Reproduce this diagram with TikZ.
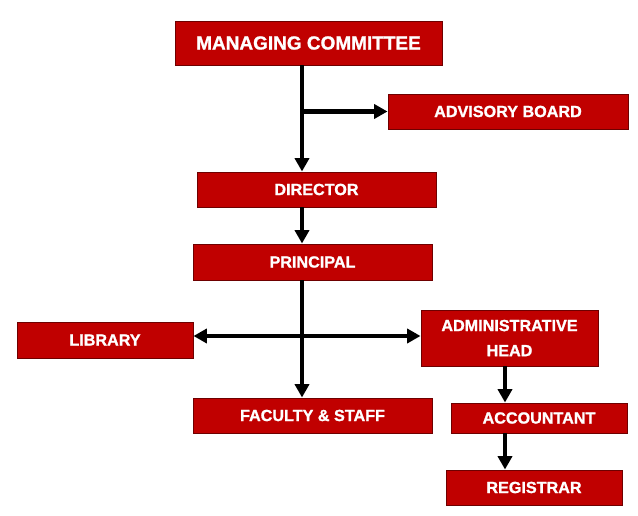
\documentclass[tikz,border=0pt]{standalone}
\usepackage{fontspec}
\setsansfont{Liberation Sans}[BoldFeatures={FakeBold=1.2}]
\usetikzlibrary{arrows.meta}
\usetikzlibrary{positioning}
\definecolor{boxred}{RGB}{192,0,0}
\definecolor{boxedge}{RGB}{110,0,0}
\begin{document}
\begin{tikzpicture}[line width=3.4pt,>={Triangle[length=9.5pt,width=10pt]},
    post/.style={rectangle,fill=boxred,draw=boxedge,line width=0.7pt,inner sep=0pt,
      text=white,font=\sffamily\bfseries\fontsize{11.5}{17.8}\selectfont,align=center}]
    \useasboundingbox (0,0) rectangle (15.95,12.9);
    \node[post,minimum width=6.675cm,minimum height=1.1cm,font=\sffamily\bfseries\fontsize{13.5}{16}\selectfont] (managing-committee) at (7.7125,11.825) {MANAGING COMMITTEE};
    \node[post,minimum width=6cm,minimum height=0.875cm] (advisory-board) at (12.7,10.1125) {ADVISORY BOARD};
    \node[post,minimum width=5.975cm,minimum height=0.875cm] (director) at (7.9125,8.1625) {DIRECTOR};
    \node[post,minimum width=5.975cm,minimum height=0.9cm] (principal) at (7.8125,6.35) {PRINCIPAL};
    \node[post,minimum width=4.4cm,minimum height=0.9cm] (library) at (2.625,4.4) {LIBRARY};
    \node[post,minimum width=4.425cm,minimum height=1.4cm] (admin-head) at (12.7375,4.45) {ADMINISTRATIVE\\HEAD};
    \node[post,minimum width=5.975cm,minimum height=0.875cm] (faculty) at (7.8125,2.5125) {FACULTY \& STAFF};
    \node[post,minimum width=4.4cm,minimum height=0.75cm] (accountant) at (13.475,2.45) {ACCOUNTANT};
    \node[post,minimum width=4.4cm,minimum height=0.875cm] (registrar) at (13.35,0.7125) {REGISTRAR};
    \coordinate (spine) at (7.55,4.5);
    \coordinate (admin-line) at (12.625,0);

    \draw[->] (spine |- managing-committee.south) -- (spine |- director.north);
    \draw[->] (spine |- advisory-board.west) -- (advisory-board.west);
    \draw[->] (spine |- director.south) -- (spine |- principal.north);
    \draw[->] (spine |- principal.south) -- (spine |- faculty.north);
    \draw[<->] (spine -| library.east) -- (spine -| admin-head.west);
    \draw[->] (admin-line |- admin-head.south) -- (admin-line |- accountant.north);
    \draw[->] (admin-line |- accountant.south) -- (admin-line |- registrar.north);
  \end{tikzpicture}
\end{document}
